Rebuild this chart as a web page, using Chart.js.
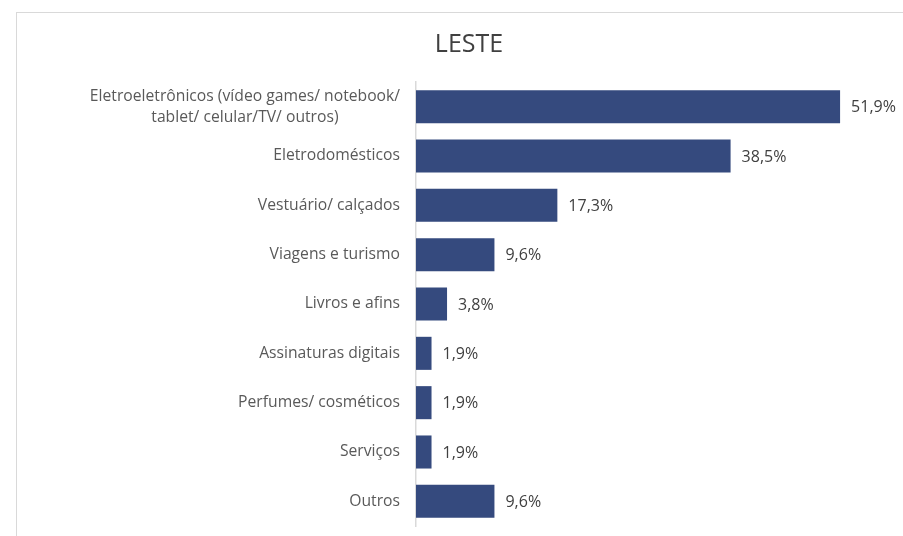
<!DOCTYPE html>
<html>
<head>
<meta charset="utf-8">
<script src="https://cdn.jsdelivr.net/npm/chart.js@4"></script>
<style>
    body { margin: 0; background: #fff; overflow: hidden; }
    #frame { position: absolute; left: 16px; top: 12px; width: 1000px; height: 1000px; border: 1px solid #d9d9d9; }
    #wrap { position: absolute; left: 0; top: 0; width: 903px; height: 536px; }
</style>
</head>
<body>
<div id="frame"></div>
<div id="wrap"><canvas id="chart" width="903" height="536"></canvas></div>
<script>
    const title = 'LESTE';
    const categories = [
        ['Eletroeletrônicos (vídeo games/ notebook/', 'tablet/ celular/TV/ outros)'],
        ['Eletrodomésticos'],
        ['Vestuário/ calçados'],
        ['Viagens e turismo'],
        ['Livros e afins'],
        ['Assinaturas digitais'],
        ['Perfumes/ cosméticos'],
        ['Serviços'],
        ['Outros']
    ];
    const values = [51.9, 38.5, 17.3, 9.6, 3.8, 1.9, 1.9, 1.9, 9.6];

    const fontFamily = '"Open Sans", "Liberation Sans", sans-serif';

    // category labels: block right-aligned to the axis, lines centered inside the block
    const categoryLabels = {
        id: 'categoryLabels',
        afterDraw(chart) {
            const ctx = chart.ctx;
            const yScale = chart.scales.y;
            const right = chart.chartArea.left - 16;
            const lineHeight = 21;
            ctx.save();
            ctx.font = '15.7px ' + fontFamily;
            ctx.fillStyle = '#595959';
            ctx.textAlign = 'center';
            ctx.textBaseline = 'middle';
            categories.forEach((lines, i) => {
                const y = yScale.getPixelForValue(i);
                const widest = Math.max(...lines.map(l => ctx.measureText(l).width));
                const cx = right - widest / 2;
                const top = y - (lines.length - 1) * lineHeight / 2;
                lines.forEach((l, j) => ctx.fillText(l, cx, top + j * lineHeight));
            });
            ctx.restore();
        }
    };

    // value labels at the end of each bar
    const valueLabels = {
        id: 'valueLabels',
        afterDatasetsDraw(chart) {
            const ctx = chart.ctx;
            const meta = chart.getDatasetMeta(0);
            ctx.save();
            ctx.font = '16px ' + fontFamily;
            ctx.fillStyle = '#404040';
            ctx.textAlign = 'left';
            ctx.textBaseline = 'middle';
            meta.data.forEach((bar, i) => {
                const txt = values[i].toFixed(1).replace('.', ',') + '%';
                ctx.fillText(txt, bar.x + 11, bar.y + 1);
            });
            ctx.restore();
        }
    };

    new Chart(document.getElementById('chart'), {
        type: 'bar',
        data: {
            labels: categories.map(c => c.join(' ')),
            datasets: [{
                data: values,
                backgroundColor: '#354a7e',
                barPercentage: 0.67,
                categoryPercentage: 1
            }]
        },
        options: {
            indexAxis: 'y',
            responsive: false,
            animation: false,
            layout: { padding: { left: 35, right: 0, top: 0, bottom: 10 } },
            scales: {
                x: {
                    min: 0,
                    max: 59.6,
                    display: false
                },
                y: {
                    ticks: { display: false },
                    grid: { display: false },
                    border: { display: true, color: '#d9d9d9', width: 1.5 },
                    afterFit: s => { s.width = 381; }
                }
            },
            plugins: {
                legend: { display: false },
                tooltip: { enabled: false },
                title: {
                    display: true,
                    text: title,
                    color: '#404040',
                    font: { family: fontFamily, size: 25, weight: 'normal' },
                    padding: { top: 30, bottom: 22 }
                }
            }
        },
        plugins: [categoryLabels, valueLabels]
    });
</script>
</body>
</html>
